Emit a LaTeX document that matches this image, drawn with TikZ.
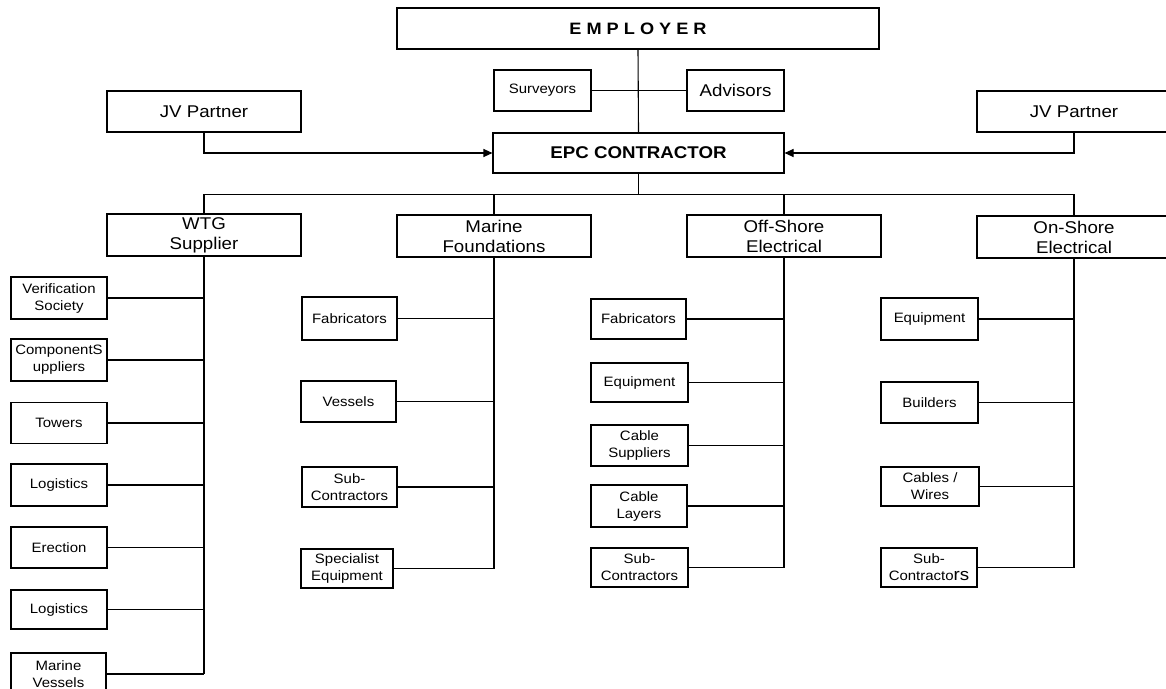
\documentclass[tikz,border=0pt]{standalone}
\usepackage{fontspec}
\setmainfont[FakeStretch=1.1]{Liberation Sans}
\usetikzlibrary{arrows.meta}
\begin{document}
\begin{tikzpicture}[x=1pt,y=-1pt,
  line width=1.1pt,
  box/.style={draw, line width=1.1pt, inner sep=0pt, align=center, font=\fontsize{17}{20}\selectfont},
  sbox/.style={box, font=\fontsize{13.6}{17}\selectfont},
  wh/.style 2 args={minimum width=#1pt, minimum height=#2pt},
  arr/.style={-{Triangle[length=9pt,width=8pt]}}]
\useasboundingbox (0,0) rectangle (1166,688);
% top
\node[box, wh={482}{41}, font=\bfseries\fontsize{16.5}{18}\selectfont] (emp) at (638,28.5) {E M P L O Y E R};
\node[sbox, wh={97}{41}] (surv) at (542.5,90.5) {Surveyors};
\node[box, wh={97}{41}] (adv) at (735.5,90.5) {Advisors};
\node[box, wh={291}{40}, font=\bfseries\fontsize{17}{20}\selectfont] (epc) at (638.5,153) {EPC CONTRACTOR};
\node[box, wh={194}{41}] (jvl) at (204,111.5) {JV Partner};
\node[box, wh={194}{41}] (jvr) at (1074,111.5) {JV Partner};
% heads
\node[box, wh={194}{42}] (wtg) at (204,235) {WTG\\Supplier};
\node[box, wh={194}{42}] (mf) at (494,236) {Marine\\Foundations};
\node[box, wh={194}{42}] (off) at (784,236) {Off-Shore\\Electrical};
\node[box, wh={194}{42}] (on) at (1074,237) {On-Shore\\Electrical};
% WTG children
\node[sbox, wh={96}{42}] (w1) at (59,298) {Verification\\Society};
\node[sbox, wh={96}{42}] (w2) at (59,360) {ComponentS\\uppliers};
\node[sbox, wh={96}{41}] (w3) at (59,423) {Towers};
\node[sbox, wh={96}{42}] (w4) at (59,485) {Logistics};
\node[sbox, wh={96}{41}] (w5) at (59,547.5) {Erection};
\node[sbox, wh={96}{39}] (w6) at (59,609.5) {Logistics};
\node[sbox, wh={95}{42}] (w7) at (58.5,674) {Marine\\Vessels};
% Marine foundations children
\node[sbox, wh={95}{43}] (m1) at (349.5,318.5) {Fabricators};
\node[sbox, wh={95}{41}] (m2) at (348.5,401.5) {Vessels};
\node[sbox, wh={95}{40}] (m3) at (349.5,487) {Sub-\\Contractors};
\node[sbox, wh={92}{39}] (m4) at (347,568.5) {Specialist\\Equipment};
% Off-shore children
\node[sbox, wh={95}{40}] (o1) at (638.5,319) {Fabricators};
\node[sbox, wh={97}{39}] (o2) at (639.5,382.5) {Equipment};
\node[sbox, wh={97}{41}] (o3) at (639.5,445.5) {Cable\\Suppliers};
\node[sbox, wh={96}{42}] (o4) at (639,506) {Cable\\Layers};
\node[sbox, wh={97}{39}] (o5) at (639.5,567.5) {Sub-\\Contractors};
% On-shore children
\node[sbox, wh={97}{42}] (n1) at (929.5,319) {Equipment};
\node[sbox, wh={97}{41}] (n2) at (929.5,402.5) {Builders};
\node[sbox, wh={98}{39}] (n3) at (930,486.5) {Cables /\\Wires};
\node[sbox, wh={96}{39}] (n4) at (929,567.5) {Sub-\\Contracto{\fontsize{17}{17}\selectfont rs}};
% connectors top
\draw (emp.south) -- (epc.north);
\draw (surv.east) -- (adv.west);
\draw[arr] (jvl.south) |- (epc.west);
\draw[arr] (jvr.south) |- (epc.east);
\coordinate (bus) at (638.5,194.5);
\draw (epc.south) -- (bus);
\draw (wtg.north) -- (wtg.north |- bus) -- (on.north |- bus) -- (on.north);
\draw (mf.north) -- (mf.north |- bus);
\draw (off.north) -- (off.north |- bus);
% vertical spines
\draw (wtg.south) -- (wtg.south |- w7.east);
\draw (mf.south) -- (mf.south |- m4.east);
\draw (off.south) -- (off.south |- o5.east);
\draw (on.south) -- (on.south |- n4.east);
% child connectors
\foreach \c in {w1,w2,w3,w4,w5,w6,w7} \draw (\c.east) -- (\c.east -| wtg.south);
\foreach \c in {m1,m2,m3,m4} \draw (\c.east) -- (\c.east -| mf.south);
\foreach \c in {o1,o2,o3,o4,o5} \draw (\c.east) -- (\c.east -| off.south);
\foreach \c in {n1,n2,n3,n4} \draw (\c.east) -- (\c.east -| on.south);
\end{tikzpicture}
\end{document}
